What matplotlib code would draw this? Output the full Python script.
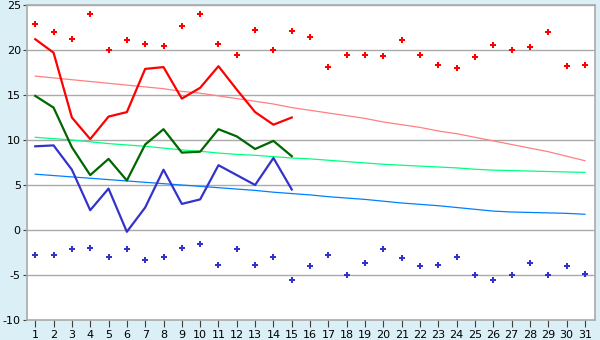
import numpy as np
import matplotlib
matplotlib.use("Agg")
import matplotlib.pyplot as plt

plt.rcParams['axes.unicode_minus'] = False

days = list(range(1, 32))

# observed daily max / mean / min (first half of month)
tmax = [21.2, 19.7, 12.5, 10.1, 12.6, 13.1, 17.9, 18.1, 14.6, 15.8, 18.2, 15.6, 13.1, 11.7, 12.5]
tmean = [14.9, 13.6, 9.2, 6.1, 7.9, 5.5, 9.5, 11.2, 8.6, 8.7, 11.2, 10.4, 9.0, 9.9, 8.2]
tmin = [9.3, 9.4, 6.7, 2.2, 4.6, -0.2, 2.5, 6.7, 2.9, 3.4, 7.2, 6.1, 5.0, 8.0, 4.5]

# record highs / lows
rec_max = [22.9, 22.0, 21.2, 24.0, 20.0, 21.1, 20.7, 20.5, 22.7, 24.0, 20.7, 19.4, 22.2, 20.0, 22.1,
           21.4, 18.1, 19.4, 19.5, 19.3, 21.1, 19.4, 18.3, 18.0, 19.2, 20.6, 20.0, 20.3, 22.0, 18.2, 18.3]
rec_min = [-2.8, -2.8, -2.1, -2.0, -3.0, -2.1, -3.3, -3.0, -2.0, -1.5, -3.9, -2.1, -3.9, -3.0, -5.6,
           -4.0, -2.8, -5.0, -3.7, -2.1, -3.1, -4.0, -3.9, -3.0, -5.0, -5.6, -5.0, -3.7, -5.0, -4.0, -4.9]

# normals
norm_max = [17.1, 16.9, 16.7, 16.5, 16.3, 16.1, 15.9, 15.7, 15.4, 15.2, 14.9, 14.6, 14.3, 14.0, 13.6,
            13.3, 13.0, 12.7, 12.4, 12.0, 11.7, 11.4, 11.0, 10.7, 10.3, 9.9, 9.5, 9.1, 8.7, 8.2, 7.7]
norm_mean = [10.3, 10.15, 10.0, 9.8, 9.6, 9.45, 9.3, 9.1, 8.9, 8.75, 8.55, 8.4, 8.3, 8.15, 8.0,
             7.9, 7.75, 7.6, 7.45, 7.3, 7.2, 7.1, 7.0, 6.9, 6.75, 6.65, 6.6, 6.55, 6.5, 6.45, 6.4]
norm_min = [6.2, 6.05, 5.9, 5.75, 5.6, 5.45, 5.3, 5.15, 5.0, 4.85, 4.7, 4.55, 4.4, 4.2, 4.05,
            3.9, 3.7, 3.55, 3.4, 3.2, 3.0, 2.85, 2.7, 2.5, 2.3, 2.1, 2.0, 1.95, 1.9, 1.85, 1.75]

fig = plt.figure(figsize=(6, 3.4), dpi=100, facecolor="#daeff6")
ax = fig.add_axes([27/600, 20/340, 568/600, 315/340])
ax.set_facecolor("white")

for y in range(-5, 26, 5):
    ax.axhline(y, color="#aaaaaa", lw=1, zorder=1)

ax.plot(days, norm_max, color="#ff8080", lw=0.9, zorder=2)
ax.plot(days, norm_mean, color="#00ff80", lw=0.9, zorder=2)
ax.plot(days, norm_min, color="#0080ff", lw=0.9, zorder=2)

n = len(tmax)
ax.plot(days[:n], tmax, color="#ff0000", lw=1.6, zorder=3)
ax.plot(days[:n], tmean, color="#006600", lw=1.6, zorder=3)
ax.plot(days[:n], tmin, color="#3333cc", lw=1.6, zorder=3)

ax.plot(days, rec_max, ls="none", marker="P", ms=4.8, color="#ff0000", mew=0, zorder=4)
ax.plot(days, rec_min, ls="none", marker="P", ms=4.8, color="#3333cc", mew=0, zorder=4)

ax.set_xlim(0.55, 31.55)
ax.set_ylim(-10, 25)
ax.set_xticks(days)
ax.set_yticks(range(-10, 26, 5))
ax.tick_params(axis="x", direction="out", length=5, color="#404040", labelsize=8, pad=2)
ax.tick_params(axis="y", direction="out", length=3, color="#404040", labelsize=8, pad=1.5)
for s in ax.spines.values():
    s.set_color("#aaaaaa")
    s.set_linewidth(1.2)

fig.savefig("out.png", dpi=100, facecolor=fig.get_facecolor())
